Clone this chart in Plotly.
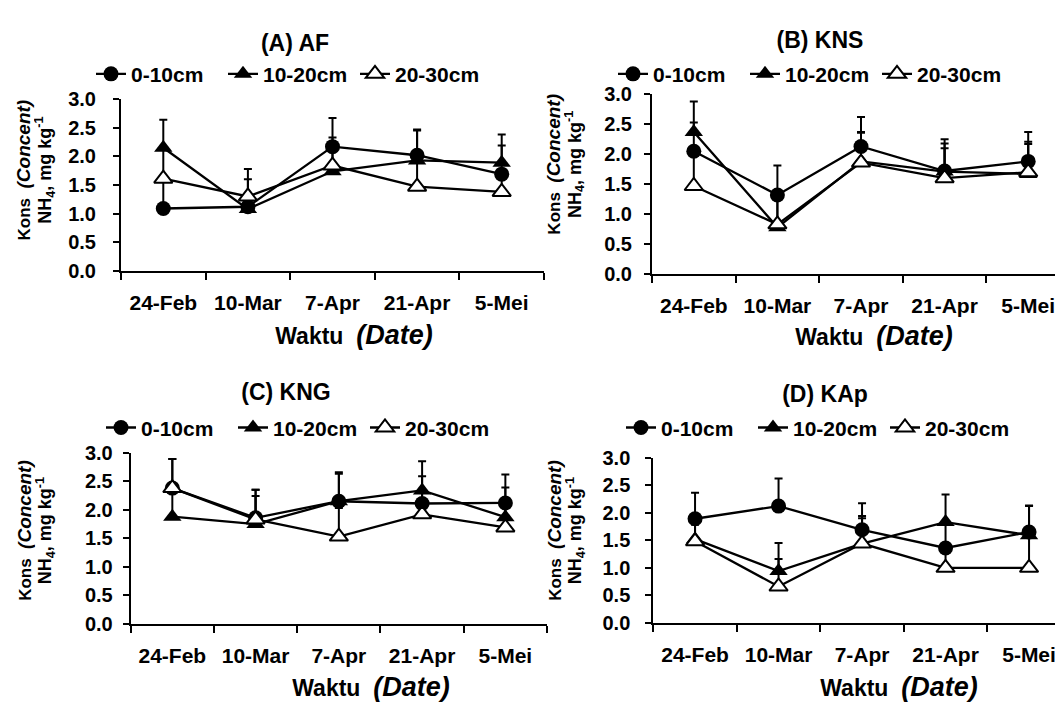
import plotly.graph_objects as go

dates = ["24-Feb", "10-Mar", "7-Apr", "21-Apr", "5-Mei"]
depths = ["0-10cm", "10-20cm", "20-30cm"]
panel_titles = ["(A) AF", "(B) KNS", "(C) KNG", "(D) KAp"]
y_ticks = [0.0, 0.5, 1.0, 1.5, 2.0, 2.5, 3.0]

# Panel A (AF)
a_0_10 = [1.09, 1.12, 2.17, 2.02, 1.69]
a_0_10_err = [0.50, 0.48, 0.50, 0.45, 0.50]
a_10_20 = [2.15, 1.08, 1.74, 1.93, 1.89]
a_10_20_err = [0.49, 0.20, 0.40, 0.52, 0.49]
a_20_30 = [1.61, 1.30, 1.84, 1.47, 1.38]
a_20_30_err = [0.55, 0.48, 0.49, 0.45, 0.40]

# Panel B (KNS)
b_0_10 = [2.05, 1.32, 2.13, 1.72, 1.88]
b_0_10_err = [0.48, 0.49, 0.49, 0.53, 0.49]
b_10_20 = [2.37, 0.78, 1.88, 1.71, 1.67]
b_10_20_err = [0.51, 0.50, 0.49, 0.47, 0.50]
b_20_30 = [1.47, 0.83, 1.86, 1.60, 1.70]
b_20_30_err = [0.58, 0.50, 0.50, 0.50, 0.51]

# Panel C (KNG)
c_0_10 = [2.38, 1.86, 2.15, 2.11, 2.12]
c_0_10_err = [0.51, 0.49, 0.51, 0.48, 0.50]
c_10_20 = [1.88, 1.75, 2.15, 2.34, 1.87]
c_10_20_err = [0.50, 0.60, 0.48, 0.51, 0.52]
c_20_30 = [2.38, 1.83, 1.53, 1.92, 1.69]
c_20_30_err = [0.51, 0.41, 0.50, 0.42, 0.40]

# Panel D (KAp)
d_0_10 = [1.89, 2.12, 1.69, 1.36, 1.65]
d_0_10_err = [0.47, 0.50, 0.48, 0.45, 0.48]
d_10_20 = [1.52, 0.94, 1.44, 1.83, 1.59]
d_10_20_err = [0.30, 0.51, 0.50, 0.50, 0.53]
d_20_30 = [1.48, 0.66, 1.44, 1.00, 1.00]
d_20_30_err = [0.30, 0.50, 0.46, 0.36, 0.55]

panels = [
    (a_0_10, a_0_10_err, a_10_20, a_10_20_err, a_20_30, a_20_30_err),
    (b_0_10, b_0_10_err, b_10_20, b_10_20_err, b_20_30, b_20_30_err),
    (c_0_10, c_0_10_err, c_10_20, c_10_20_err, c_20_30, c_20_30_err),
    (d_0_10, d_0_10_err, d_10_20, d_10_20_err, d_20_30, d_20_30_err),
]

W, H = 1063, 706
FONT = "Arial, Liberation Sans, sans-serif"

def px_x(v):
    return v / W

def px_y(v):
    return 1 - v / H

# plot-area pixel boxes: (left, right, top, bottom)
boxes = [
    (113, 536, 82.7, 260.0),
    (644, 1062, 77.7, 263.3),
    (122.7, 539, 447.7, 624.3),
    (645.3, 1062.8, 452.7, 623.3),
]
y_standoff = [13, 8, 6, 11]
title_pos = [(287, 25), (812, 22), (278, 385), (817, 387)]
legend_pos = [(88, 57), (610, 57), (98, 422), (618, 422)]
xtitle_pos = [(346, 326), (866, 327), (363, 690), (891, 690)]
ytitle_pos = [(16, 37, 156), (546, 567, 150), (16, 37, 528), (546, 567, 528)]

markers = [
    dict(symbol="circle", size=15, color="black"),
    dict(symbol="triangle-up", size=16, color="black"),
    dict(symbol="triangle-up", size=16, color="white", line=dict(color="black", width=2)),
]

fig = go.Figure()
annotations = []
for i, pdata in enumerate(panels):
    ax = "" if i == 0 else str(i + 1)
    lg = "legend" if i == 0 else "legend" + str(i + 1)
    for k in range(3):
        vals = pdata[2 * k]
        errs = pdata[2 * k + 1]
        fig.add_trace(go.Scatter(
            x=dates, y=vals, name=depths[k], mode="lines+markers",
            line=dict(color="black", width=2.3),
            marker=markers[k],
            error_y=dict(type="data", array=errs, arrayminus=[0] * len(errs),
                         symmetric=False, color="black", thickness=2, width=4),
            xaxis="x" + ax, yaxis="y" + ax, legend=lg, cliponaxis=False,
        ))
    l, r, t, b = boxes[i]
    fig.update_layout(**{
        "xaxis" + ax: dict(
            domain=[px_x(l), px_x(r)], anchor="y" + ax, type="category",
            categoryorder="array", categoryarray=dates, range=[-0.5, 4.5],
            tickson="boundaries", ticks="outside", ticklen=7, tickwidth=2,
            tickcolor="black", showline=True, linecolor="black", linewidth=2,
            showgrid=False, zeroline=False, ticklabelstandoff=12,
            tickfont=dict(family=FONT, size=21, color="black", weight="bold"),
        ),
        "yaxis" + ax: dict(
            domain=[px_y(b), px_y(t)], anchor="x" + ax, range=[0, 3],
            tickvals=y_ticks, tickformat=".1f", ticks="outside", ticklen=6,
            tickwidth=2, tickcolor="black", showline=True, linecolor="black",
            linewidth=2, showgrid=False, zeroline=False,
            ticklabelstandoff=y_standoff[i],
            tickfont=dict(family=FONT, size=20, color="black", weight="bold"),
        ),
        lg: dict(
            orientation="h", x=px_x(legend_pos[i][0] - 5), y=px_y(legend_pos[i][1]),
            xanchor="left", yanchor="middle", bgcolor="rgba(0,0,0,0)",
            font=dict(family=FONT, size=21, color="black", weight="bold"),
            itemwidth=30, entrywidth=87, tracegroupgap=0,
        ),
    })
    tx, ty = title_pos[i]
    annotations.append(dict(
        text="<b>" + panel_titles[i] + "</b>", x=px_x(tx), y=px_y(ty),
        xref="paper", yref="paper", width=140, height=30,
        showarrow=False, xanchor="center", yanchor="middle",
        font=dict(family=FONT, size=23, color="black"),
    ))
    xx, xy = xtitle_pos[i]
    annotations.append(dict(
        text='<b>Waktu  <span style="font-size:27px"><i>(Date)</i></span></b>',
        x=px_x(xx), y=px_y(xy), xref="paper", yref="paper", width=210, height=34,
        showarrow=False, xanchor="center", yanchor="middle",
        font=dict(family=FONT, size=23, color="black"),
    ))
    x1, x2, yc = ytitle_pos[i]
    annotations.append(dict(
        text='<b>Kons  <span style="font-size:19px"><i>(Concent)</i></span></b>',
        x=px_x(x1), y=px_y(yc), xref="paper", yref="paper", textangle=-90,
        width=160, height=22,
        showarrow=False, xanchor="center", yanchor="middle",
        font=dict(family=FONT, size=17, color="black"),
    ))
    annotations.append(dict(
        text="<b>NH<sub>4</sub>, mg kg<sup>-1</sup></b>",
        x=px_x(x2), y=px_y(yc), xref="paper", yref="paper", textangle=-90,
        width=160, height=22,
        showarrow=False, xanchor="center", yanchor="middle",
        font=dict(family=FONT, size=18, color="black"),
    ))

fig.update_layout(
    width=W, height=H, autosize=False,
    margin=dict(l=0, r=0, t=0, b=0),
    paper_bgcolor="white", plot_bgcolor="white",
    showlegend=True, annotations=annotations,
)

fig.write_html("out.html")
